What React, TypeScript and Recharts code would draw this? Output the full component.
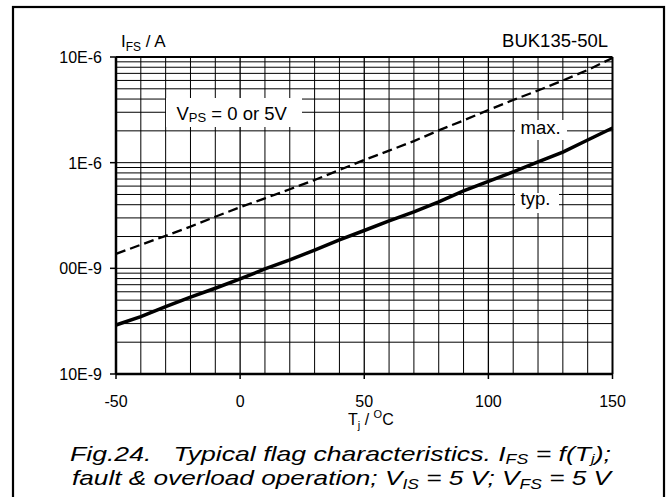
import React from "react";
import { LineChart, Line, XAxis, YAxis, ReferenceLine } from "recharts";

// junction temperature, deg C
const temps = [-50, -40, -30, -20, -10, 0, 10, 20, 30, 40, 50, 60, 70, 80, 90, 100, 110, 120, 130, 140, 150];
// flag current, A
const maxCurrent = [
  1.37e-7, 1.67e-7, 2.03e-7, 2.48e-7, 3.08e-7, 3.79e-7, 4.6e-7, 5.6e-7, 6.86e-7, 8.53e-7,
  1.06e-6, 1.3e-6, 1.6e-6, 2.02e-6, 2.51e-6, 3.15e-6, 3.92e-6, 4.82e-6, 5.99e-6, 7.53e-6, 9.78e-6,
];
const typCurrent = [
  2.91e-8, 3.49e-8, 4.34e-8, 5.33e-8, 6.48e-8, 7.94e-8, 9.87e-8, 1.2e-7, 1.49e-7, 1.86e-7,
  2.28e-7, 2.81e-7, 3.42e-7, 4.25e-7, 5.4e-7, 6.64e-7, 8.17e-7, 1.015e-6, 1.26e-6, 1.64e-6, 2.13e-6,
];

const xTicks = [-50, 0, 50, 100, 150];
const xGrid = [-40, -30, -20, -10, 10, 20, 30, 40, 60, 70, 80, 90, 110, 120, 130, 140];
const yTicks = [1e-8, 1e-7, 1e-6, 1e-5];
const yTickLabels = ["10E-9", "00E-9", "1E-6", "10E-6"];
const decades = [1e-8, 1e-7, 1e-6];
const minorSteps = [2, 3, 4, 5, 6, 7, 8, 9];

const data = temps.map((t, i) => ({ t, max: maxCurrent[i], typ: typCurrent[i] }));
const yGrid = [1e-7, 1e-6, ...decades.flatMap((d) => minorSteps.map((m) => d * m))];

const FONT = "'Liberation Sans', Arial, Helvetica, sans-serif";

const XTick = (props: any) => {
  const { x, y, payload } = props;
  return (
    <text x={x} y={y} dy={26} textAnchor="middle" fontFamily={FONT} fontSize={16} fill="#000">
      {payload.value}
    </text>
  );
};

const YTick = (props: any) => {
  const { x, y, payload } = props;
  const idx = yTicks.indexOf(payload.value);
  return (
    <text x={x} y={y} dx={-6} dy={6} textAnchor="end" fontFamily={FONT} fontSize={16} fill="#000">
      {idx >= 0 ? yTickLabels[idx] : ""}
    </text>
  );
};

export default function App() {
  return (
    <div
      style={{
        position: "absolute",
        left: 0,
        top: 0,
        width: 669,
        height: 497,
        background: "#fff",
        overflow: "hidden",
      }}
    >
      <LineChart
        width={669}
        height={497}
        data={data}
        margin={{ top: 57, right: 56.5, bottom: 0, left: 0 }}
      >
        {xGrid.map((v) => (
          <ReferenceLine key={`vx-${v}`} x={v} stroke="#000" strokeWidth={1} />
        ))}
        {[0, 50, 100].map((v) => (
          <ReferenceLine key={`vm-${v}`} x={v} stroke="#000" strokeWidth={1.3} />
        ))}
        {yGrid.map((v) => (
          <ReferenceLine key={`hy-${v}`} y={v} stroke="#000" strokeWidth={1} />
        ))}
        <ReferenceLine x={150} stroke="#000" strokeWidth={2} />
        <ReferenceLine y={1e-5} stroke="#000" strokeWidth={2} />
        <XAxis
          dataKey="t"
          type="number"
          domain={[-50, 150]}
          ticks={xTicks}
          interval={0}
          height={123}
          tickSize={5}
          axisLine={{ stroke: "#000", strokeWidth: 2.5 }}
          tickLine={{ stroke: "#000", strokeWidth: 1.5 }}
          tick={<XTick />}
        />
        <YAxis
          type="number"
          scale="log"
          domain={[1e-8, 1e-5]}
          ticks={yTicks}
          interval={0}
          allowDataOverflow
          width={116}
          tickSize={6}
          axisLine={{ stroke: "#000", strokeWidth: 2.5 }}
          tickLine={{ stroke: "#000", strokeWidth: 1.5 }}
          tick={<YTick />}
        />
        <Line
          dataKey="max"
          type="linear"
          stroke="#000"
          strokeWidth={2.3}
          strokeDasharray="10 5"
          dot={false}
          activeDot={false}
          isAnimationActive={false}
        />
        <Line
          dataKey="typ"
          type="linear"
          stroke="#000"
          strokeWidth={3.5}
          dot={false}
          activeDot={false}
          isAnimationActive={false}
        />
      </LineChart>

      <svg
        width={669}
        height={497}
        style={{ position: "absolute", left: 0, top: 0, pointerEvents: "none" }}
        fontFamily={FONT}
      >
        {/* outer figure frame */}
        <rect x={13} y={7} width={651} height={520} fill="none" stroke="#000" strokeWidth={2.2} />

        <text x={121} y={47} fontSize={17} fill="#000">
          I<tspan fontSize={12} dy={4}>FS</tspan>
          <tspan dy={-4}> / A</tspan>
        </text>
        <text x={608} y={47} fontSize={18.5} textAnchor="end" fill="#000">
          BUK135-50L
        </text>

        <rect x={166} y={98} width={136} height={29} fill="#fff" />
        <text x={176.5} y={119.5} fontSize={18.5} fill="#000">
          V<tspan fontSize={13} dy={2.5}>PS</tspan>
          <tspan dy={-2.5}> = 0 or 5V</tspan>
        </text>

        <rect x={515} y={120} width={52} height={20} fill="#fff" />
        <text x={520.5} y={133.5} fontSize={18.5} fill="#000">
          max.
        </text>
        <rect x={515} y={193} width={44} height={20} fill="#fff" />
        <text x={520.5} y={205} fontSize={18.5} fill="#000">
          typ.
        </text>

        <text x={348} y={424.5} fontSize={16} fill="#000">
          T<tspan fontSize={11} dy={4}>j</tspan>
          <tspan dy={-4}> / </tspan>
          <tspan fontSize={11} dy={-7}>O</tspan>
          <tspan dy={7}>C</tspan>
        </text>

        <text
          x={70}
          y={460.5}
          fontSize={21}
          fontStyle="italic"
          fill="#000"
          textLength={541}
          lengthAdjust="spacingAndGlyphs"
          style={{ whiteSpace: "pre" }}
        >
          {"Fig.24.   Typical flag characteristics. I"}
          <tspan fontSize={14} dy={3}>FS</tspan>
          <tspan dy={-3}>{" = f(T"}</tspan>
          <tspan fontSize={13} dy={2.5}>j</tspan>
          <tspan dy={-2.5}>{");"}</tspan>
        </text>
        <text
          x={72}
          y={484.5}
          fontSize={21}
          fontStyle="italic"
          fill="#000"
          textLength={539}
          lengthAdjust="spacingAndGlyphs"
          style={{ whiteSpace: "pre" }}
        >
          {"fault & overload operation; V"}
          <tspan fontSize={14} dy={4}>IS</tspan>
          <tspan dy={-4}>{" = 5 V; V"}</tspan>
          <tspan fontSize={14} dy={4}>FS</tspan>
          <tspan dy={-4}>{" = 5 V"}</tspan>
        </text>
      </svg>
    </div>
  );
}
